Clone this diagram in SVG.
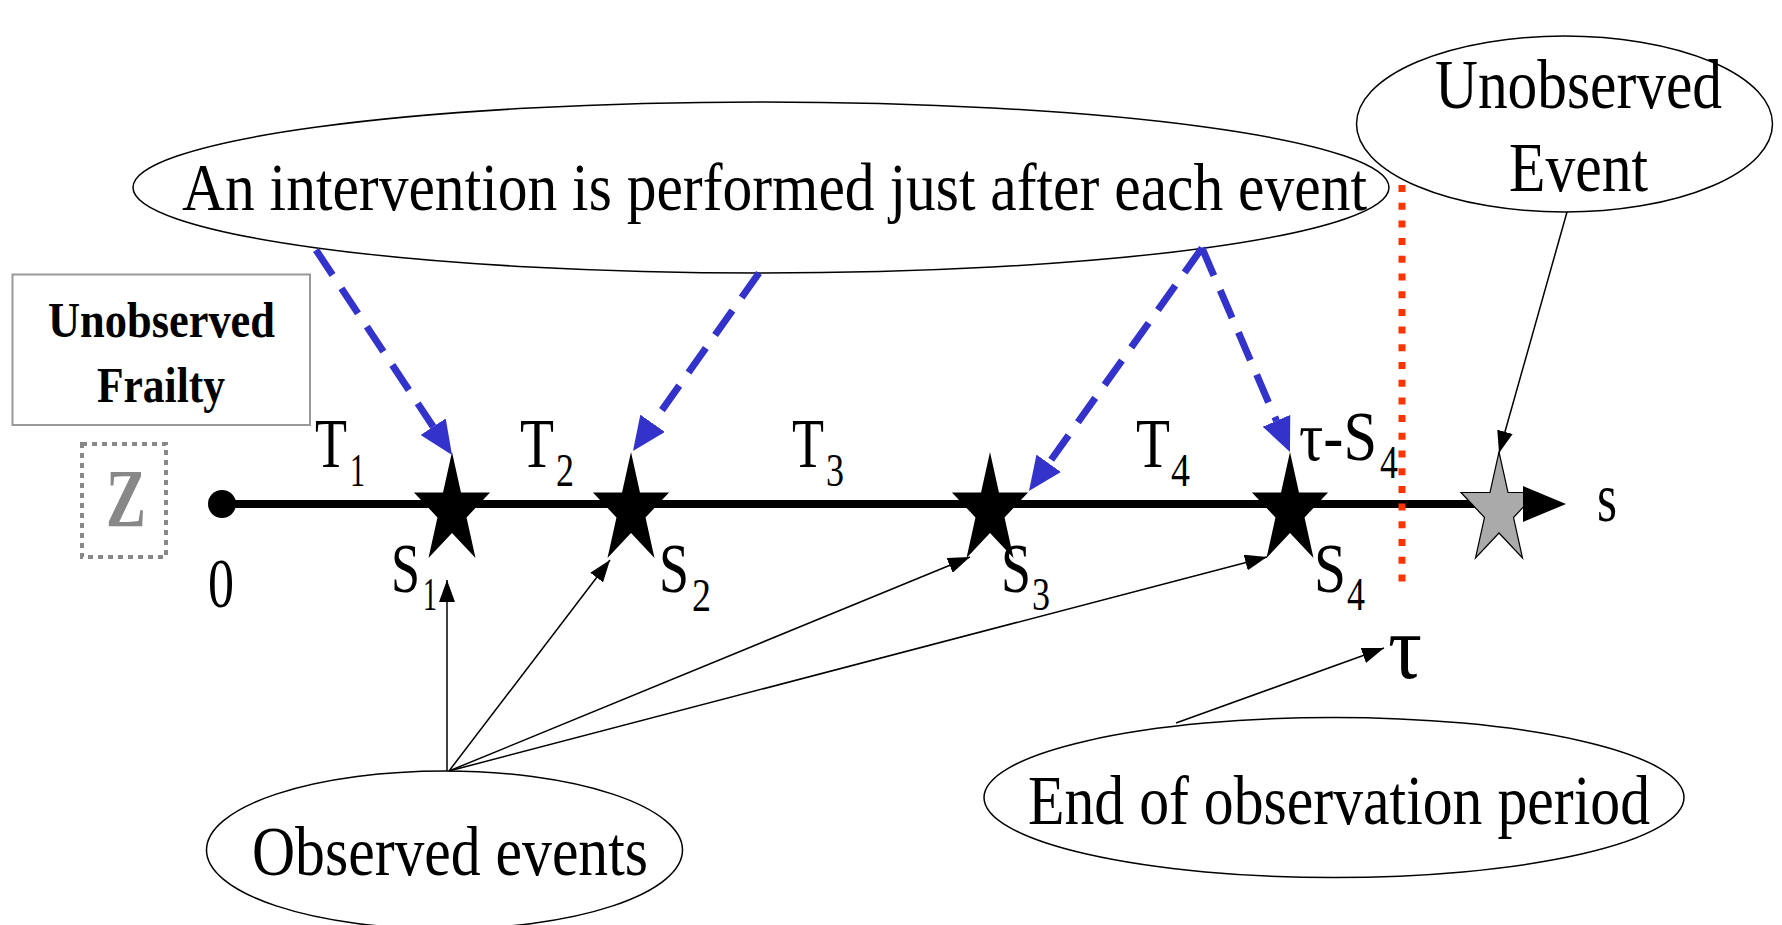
<svg xmlns="http://www.w3.org/2000/svg" width="1782" height="925" viewBox="0 0 1782 925">
<style>
.t{font-family:"Liberation Serif","Times New Roman",serif;fill:#000}
.big{font-size:70px}
.sub{font-size:46px}
.ell{fill:#fff;stroke:#000;stroke-width:1.5}
.thin{stroke:#000;stroke-width:1.5;fill:none;marker-end:url(#ah)}
.blue{stroke:#3333cc;stroke-width:7;fill:none;stroke-dasharray:30 16;marker-end:url(#bh)}
</style>
<defs>
<marker id="ah" markerUnits="userSpaceOnUse" viewBox="0 0 22 16" refX="22" refY="8" markerWidth="22" markerHeight="16" orient="auto"><path d="M0,0 L22,8 L0,16 Z" fill="#000"/></marker>
<marker id="bh" markerUnits="userSpaceOnUse" viewBox="0 0 34 30" refX="0" refY="15" markerWidth="34" markerHeight="30" orient="auto"><path d="M0,0 L34,15 L0,30 Z" fill="#3333cc"/></marker>
<path id="star" d="M0,-1 L0.2245,-0.309 L0.951,-0.309 L0.3633,0.118 L0.5878,0.809 L0,0.382 L-0.5878,0.809 L-0.3633,0.118 L-0.951,-0.309 L-0.2245,-0.309 Z"/>
</defs>
<rect width="1782" height="925" fill="#fff"/>

<g id="timeline">
<line x1="222" y1="504" x2="1526" y2="504" stroke="#000" stroke-width="8"/>
<circle cx="222" cy="504" r="14" fill="#000"/>
</g>

<g id="frailty-box">
<rect x="12.5" y="274.5" width="297.5" height="150.5" fill="#fff" stroke="#999" stroke-width="2"/>
<text class="t" x="48" y="337" font-size="50" font-weight="bold" textLength="227" lengthAdjust="spacingAndGlyphs">Unobserved</text>
<text class="t" x="97" y="402" font-size="50" font-weight="bold" textLength="128" lengthAdjust="spacingAndGlyphs">Frailty</text>
</g>

<g id="z-box">
<rect x="82" y="444" width="84" height="113" fill="none" stroke="#888" stroke-width="4" stroke-dasharray="5 5"/>
<text class="t" x="106" y="526" font-size="82" font-weight="bold" style="fill:#888" textLength="40" lengthAdjust="spacingAndGlyphs">Z</text>
</g>

<g id="intervention">
<ellipse class="ell" cx="761" cy="187.5" rx="628" ry="85.5"/>
<text class="t" x="182" y="210" font-size="68" textLength="1185" lengthAdjust="spacingAndGlyphs">An intervention is performed just after each event</text>
</g>

<g id="unobserved-event">
<ellipse class="ell" cx="1564.5" cy="124" rx="208" ry="88"/>
<text class="t" x="1435" y="108" font-size="70" textLength="287" lengthAdjust="spacingAndGlyphs">Unobserved</text>
<text class="t" x="1509" y="191" font-size="70" textLength="139" lengthAdjust="spacingAndGlyphs">Event</text>
</g>

<g id="observed-events">
<ellipse class="ell" cx="444.5" cy="850" rx="238" ry="79"/>
<text class="t" x="252" y="875" font-size="70" textLength="396" lengthAdjust="spacingAndGlyphs">Observed events</text>
</g>

<g id="end-observation">
<ellipse class="ell" cx="1334" cy="797.5" rx="350" ry="80"/>
<text class="t" x="1028" y="824" font-size="70" textLength="622" lengthAdjust="spacingAndGlyphs">End of observation period</text>
</g>

<g id="stars">
<use href="#star" transform="translate(452,510.6) scale(40,58.6)" fill="#000"/>
<use href="#star" transform="translate(631,510.6) scale(40,58.6)" fill="#000"/>
<use href="#star" transform="translate(990,510.6) scale(40,58.6)" fill="#000"/>
<use href="#star" transform="translate(1290,510.6) scale(40,58.6)" fill="#000"/>
<polygon id="gray-star" points="1499,452 1508,492.5 1537,492.5 1513.5,517.5 1522.5,558 1499,533 1475.5,558 1484.5,517.5 1461,492.5 1490,492.5" fill="#aaa" stroke="#000" stroke-width="1.2"/>
</g>

<g id="axis-end">
<polygon points="1523,486 1566,504 1523,522" fill="#000"/>
<text class="t big" x="1597" y="521" textLength="20" lengthAdjust="spacingAndGlyphs">s</text>
</g>

<g id="tau-line">
<line x1="1402" y1="185" x2="1402" y2="585" stroke="#ff3300" stroke-width="7" stroke-dasharray="7 10.7"/>
</g>

<g id="labels">
<text class="t big" x="208" y="607" textLength="26" lengthAdjust="spacingAndGlyphs">0</text>
<text class="t big" x="315" y="467" textLength="32" lengthAdjust="spacingAndGlyphs">T</text>
<text class="t sub" x="350" y="486" textLength="15" lengthAdjust="spacingAndGlyphs">1</text>
<text class="t big" x="520" y="467" textLength="34" lengthAdjust="spacingAndGlyphs">T</text>
<text class="t sub" x="556" y="486" textLength="18" lengthAdjust="spacingAndGlyphs">2</text>
<text class="t big" x="792" y="467" textLength="32" lengthAdjust="spacingAndGlyphs">T</text>
<text class="t sub" x="826" y="486" textLength="18" lengthAdjust="spacingAndGlyphs">3</text>
<text class="t big" x="1136" y="467" textLength="34" lengthAdjust="spacingAndGlyphs">T</text>
<text class="t sub" x="1171" y="486" textLength="19" lengthAdjust="spacingAndGlyphs">4</text>
<text class="t big" x="1299" y="460" textLength="78" lengthAdjust="spacingAndGlyphs">τ-S</text>
<text class="t sub" x="1380" y="478" textLength="18" lengthAdjust="spacingAndGlyphs">4</text>
<text class="t big" x="391" y="592" textLength="29" lengthAdjust="spacingAndGlyphs">S</text>
<text class="t sub" x="423" y="610" textLength="14" lengthAdjust="spacingAndGlyphs">1</text>
<text class="t big" x="659" y="592" textLength="30" lengthAdjust="spacingAndGlyphs">S</text>
<text class="t sub" x="692" y="611" textLength="19" lengthAdjust="spacingAndGlyphs">2</text>
<text class="t big" x="1001" y="592" textLength="30" lengthAdjust="spacingAndGlyphs">S</text>
<text class="t sub" x="1032" y="610" textLength="18" lengthAdjust="spacingAndGlyphs">3</text>
<text class="t big" x="1314" y="592" textLength="32" lengthAdjust="spacingAndGlyphs">S</text>
<text class="t sub" x="1347" y="610" textLength="18" lengthAdjust="spacingAndGlyphs">4</text>
<text class="t" x="1388" y="678" font-size="90" textLength="34" lengthAdjust="spacingAndGlyphs">τ</text>
</g>

<g id="connectors">
<path class="blue" d="M316,250 L433.2,426.7"/>
<path class="blue" d="M759,273 L652.6,423.3"/>
<path class="blue" d="M1202,248 L1048.7,463.3"/>
<path class="blue" d="M1202,248 L1276.5,420.8"/>
<path class="thin" d="M447,771 L447,580"/>
<path class="thin" d="M449,771 L610,560"/>
<path class="thin" d="M449,771 L970,557"/>
<path class="thin" d="M449,771 L1267,557"/>
<path class="thin" d="M1176,723 L1384,648"/>
<path class="thin" d="M1567,212 L1499,453"/>
</g>
</svg>
